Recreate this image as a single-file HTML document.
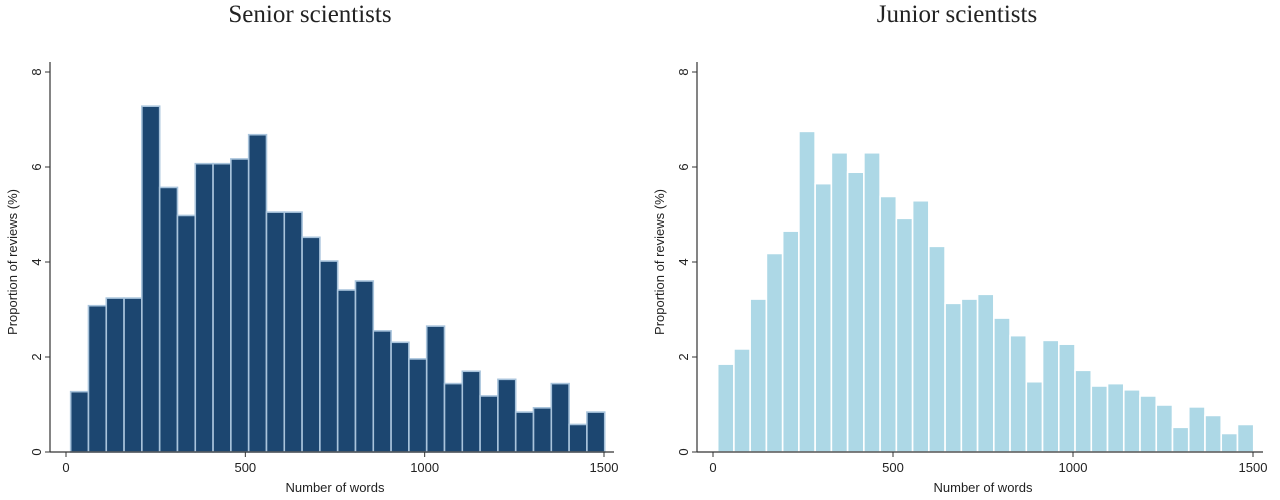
<!DOCTYPE html>
<html><head><meta charset="utf-8"><style>
body{margin:0;background:#fff;width:1280px;height:495px;overflow:hidden}
svg text{font-family:"Liberation Sans",sans-serif;fill:#222}
</style></head><body>
<svg id="c" width="1280" height="495"></svg>
<script>
const seniorValues=[1.27,3.08,3.24,3.24,7.28,5.57,4.98,6.07,6.07,6.17,6.68,5.05,5.05,4.52,4.02,3.41,3.6,2.55,2.31,1.96,2.65,1.44,1.7,1.18,1.53,0.84,0.93,1.44,0.58,0.84];
const juniorValues=[1.85,2.17,3.22,4.18,4.65,6.75,5.65,6.3,5.89,6.3,5.38,4.92,5.29,4.33,3.13,3.22,3.32,2.82,2.45,1.48,2.35,2.27,1.72,1.39,1.44,1.31,1.18,0.99,0.52,0.95,0.77,0.39,0.58];
const yTicks=[0,2,4,6,8];
const xTicks=[0,500,1000,1500];
const titles=["Senior scientists","Junior scientists"];
const NS="http://www.w3.org/2000/svg";
const svg=document.getElementById('c');
function mk(t,a,p){const e=document.createElementNS(NS,t);for(const k in a)e.setAttribute(k,a[k]);(p||svg).appendChild(e);return e;}
function panel(cfg){
  const g=mk('g',{});
  
  
  const y=v=>452-v*47.5;
  const x=w=>cfg.x0+w*(cfg.x1-cfg.x0)/1500;
  const t=mk('text',{x:cfg.tx,y:22,'text-anchor':'middle','font-size':'25'},g);
  t.style.fontFamily='"Liberation Serif",serif';
  t.textContent=cfg.title;
  
  
  const n=cfg.vals.length, start=13, bw=(1502-start)/n;
  cfg.vals.forEach((v,i)=>{
    const r=mk('rect',{x:x(start+i*bw),y:y(v),width:x(start+(i+1)*bw)-x(start+i*bw),height:y(0)-y(v),fill:cfg.fill,stroke:cfg.stroke,'stroke-width':'1.6'},g);
    
    
  });
  const ya=mk('line',{x1:cfg.ax,y1:62,x2:cfg.ax,y2:452,stroke:'#333','stroke-width':'1.2'},g);
  
  
  const xa=mk('line',{x1:cfg.ax,y1:452,x2:cfg.x1+10,y2:452,stroke:'#333','stroke-width':'1.2'},g);
  
  
  yTicks.forEach(v=>{
    mk('line',{x1:cfg.ax-5,y1:y(v),x2:cfg.ax,y2:y(v),stroke:'#333'},g);
    const l=mk('text',{x:0,y:0,'font-size':'13','text-anchor':'middle',transform:`translate(${cfg.ax-9},${y(v)}) rotate(-90)`},g);
    l.textContent=v;
    
    
  });
  xTicks.forEach(v=>{
    mk('line',{x1:x(v),y1:452,x2:x(v),y2:457,stroke:'#333'},g);
    const l=mk('text',{x:x(v),y:472,'font-size':'13','text-anchor':'middle'},g);
    l.textContent=v;
    
    
  });
  const xt=mk('text',{x:(cfg.x0+cfg.x1)/2,y:492,'font-size':'13','text-anchor':'middle'},g);
  xt.textContent='Number of words';
  
  
  const yt=mk('text',{x:0,y:0,'font-size':'13','text-anchor':'middle',transform:`translate(${cfg.ax-33},262) rotate(-90)`},g);
  yt.textContent='Proportion of reviews (%)';
  
  
}
panel({name:'senior-panel',title:titles[0],vals:seniorValues,x0:66,x1:604,ax:50,tx:310,fill:'#1c4670',stroke:'#a9c4dc'});
panel({name:'junior-panel',title:titles[1],vals:juniorValues,x0:713,x1:1253,ax:697,tx:957,fill:'#add8e6',stroke:'#ffffff'});
</script>
</body></html>
